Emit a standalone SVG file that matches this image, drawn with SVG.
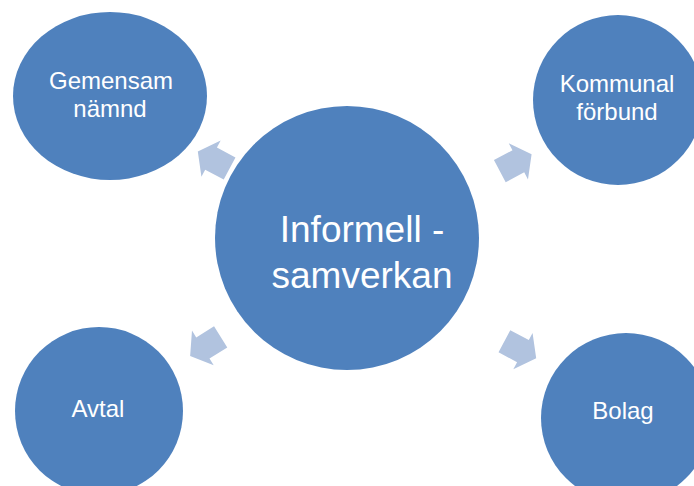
<svg xmlns="http://www.w3.org/2000/svg" width="694" height="486" viewBox="0 0 694 486">
<defs>
<style>
.node{fill:#4f81bd;}
.lbl{fill:#ffffff;font-family:"Liberation Sans",Arial,sans-serif;font-size:24px;text-anchor:middle;}
.big{font-size:37px;}
.arr{fill:#b1c3df;}
</style>
<path id="arrow" d="M-18,-12.5 H3 V-20.5 L18,0 L3,20.5 V12.5 H-18 Z"/>
</defs>
<rect width="694" height="486" fill="#ffffff"/>
<g id="connectors">
<use href="#arrow" class="arr" transform="translate(213.7,160) rotate(208)"/>
<use href="#arrow" class="arr" transform="translate(515.7,162.7) rotate(-28)"/>
<use href="#arrow" class="arr" transform="translate(205.4,346.4) rotate(148)"/>
<use href="#arrow" class="arr" transform="translate(520.3,349.7) rotate(28)"/>
</g>
<g id="center">
<circle class="node" cx="347" cy="238" r="132"/>
<text class="lbl big" x="362" y="242">Informell -</text>
<text class="lbl big" x="362" y="288">samverkan</text>
</g>
<g id="gemensam">
<ellipse class="node" cx="110" cy="96" rx="97" ry="84"/>
<text class="lbl" x="111" y="89">Gemensam</text>
<text class="lbl" x="110" y="117">nämnd</text>
</g>
<g id="kommunal">
<circle class="node" cx="618" cy="100" r="85"/>
<text class="lbl" x="617" y="92">Kommunal</text>
<text class="lbl" x="617" y="120">förbund</text>
</g>
<g id="avtal">
<circle class="node" cx="99" cy="411" r="84"/>
<text class="lbl" x="98" y="417">Avtal</text>
</g>
<g id="bolag">
<circle class="node" cx="626" cy="418" r="85"/>
<text class="lbl" x="623" y="419">Bolag</text>
</g>
</svg>
